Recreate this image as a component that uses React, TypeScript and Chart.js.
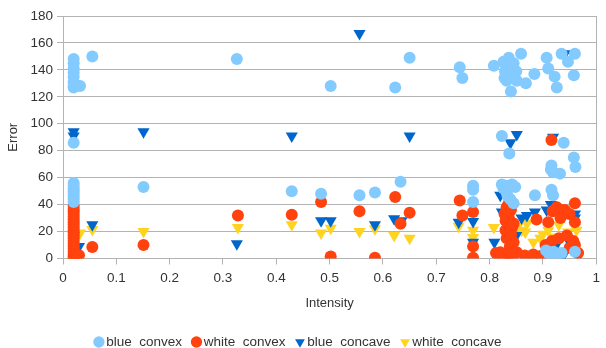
import { useEffect, useRef } from 'react';
import { Chart, registerables } from 'chart.js';

Chart.register(...registerables);

const seriesNames = ['blue  convex', 'white  convex', 'blue  concave', 'white  concave'];
const xTickLabels = ['0', '0.1', '0.2', '0.3', '0.4', '0.5', '0.6', '0.7', '0.8', '0.9', '1'];
const yTickLabels = ['0', '20', '40', '60', '80', '100', '120', '140', '160', '180'];

const blueConvexX = [
  0.02, 0.02, 0.02, 0.02, 0.02, 0.02, 0.02, 0.02, 0.032, 0.055, 0.02,
  0.02, 0.02, 0.02, 0.02, 0.02, 0.02, 0.02, 0.02, 0.151, 0.326, 0.429,
  0.484, 0.502, 0.556, 0.585, 0.623, 0.633, 0.65, 0.744, 0.749, 0.769,
  0.769, 0.769, 0.808, 0.826, 0.836, 0.829, 0.839, 0.842, 0.832, 0.851,
  0.84, 0.859, 0.868, 0.884, 0.907, 0.91, 0.922, 0.926, 0.935, 0.947,
  0.96, 0.958, 0.832, 0.845, 0.83, 0.836, 0.845, 0.823, 0.837, 0.939,
  0.958, 0.961, 0.916, 0.919, 0.932, 0.823, 0.842, 0.832, 0.848, 0.826,
  0.832, 0.839, 0.845, 0.885, 0.916, 0.919, 0.906, 0.912, 0.92, 0.928,
  0.935, 0.96, 0.828, 0.838, 0.85, 0.834, 0.915,
];
const blueConvexY = [
  148, 145, 141, 138, 135, 131, 128, 127, 128, 150, 86,
  56, 54, 52, 50, 48, 46, 44, 42, 53, 148, 50,
  48, 128, 47, 49, 127, 57, 149, 142, 134, 54,
  51, 42, 143, 146, 149, 139, 142, 135, 132, 132,
  124, 152, 130, 137, 149, 141, 135, 127, 152, 146,
  152, 136, 140, 137, 144, 137, 145, 91, 78, 86,
  75, 68, 69, 64, 63, 55, 55, 54, 53, 52,
  49, 44, 41, 47, 51, 47, 6, 3, 5, 2,
  4, 5, 134, 144, 139, 46, 66,
];

const whiteConvexX = [
  0.02, 0.02, 0.02, 0.02, 0.02, 0.02, 0.02, 0.02, 0.02, 0.02, 0.02,
  0.02, 0.02, 0.02, 0.02, 0.02, 0.02, 0.02, 0.02, 0.02, 0.02, 0.025,
  0.03, 0.055, 0.151, 0.328, 0.429, 0.484, 0.502, 0.556, 0.585, 0.623,
  0.633, 0.65, 0.744, 0.749, 0.769, 0.769, 0.769, 0.812, 0.916, 0.832,
  0.84, 0.828, 0.836, 0.845, 0.83, 0.84, 0.832, 0.845, 0.83, 0.842,
  0.838, 0.835, 0.82, 0.835, 0.851, 0.866, 0.882, 0.897, 0.826, 0.843,
  0.888, 0.91, 0.926, 0.941, 0.96, 0.96, 0.918, 0.933, 0.95, 0.905,
  0.917, 0.93, 0.945, 0.957, 0.96, 0.95, 0.966, 0.935,
];
const whiteConvexY = [
  0, 1.5, 3, 5, 7, 9, 11, 13, 15, 17, 19,
  21, 23, 25, 27, 29, 31, 33, 35, 37, 39, 1,
  2.5, 8.5, 10, 32, 32.5, 42, 1.5, 35, 0.5, 45.6,
  25.8, 34, 43, 32, 34.5, 9, 0.5, 4, 88, 38,
  36, 33, 30, 26, 21, 18, 15, 12, 28, 23,
  9, 40, 4.7, 2.2, 4.7, 2.2, 3, 2, 1.5, 1,
  29, 27, 38, 36, 41, 27, 35, 30, 33, 10,
  13, 15, 17, 13, 10, 8, 4, 36,
];

const blueConcaveX = [
  0.02, 0.02, 0.151, 0.429, 0.556, 0.65, 0.941, 0.851, 0.839, 0.919,
  0.02, 0.03, 0.055, 0.326, 0.484, 0.502, 0.585, 0.621, 0.635, 0.742,
  0.769, 0.769, 0.809, 0.82, 0.823, 0.87, 0.885, 0.907, 0.929, 0.96,
  0.938, 0.85, 0.86, 0.83, 0.915, 0.925, 0.95, 0.96,
];
const blueConcaveY = [
  94, 91, 94, 91, 167, 91, 152, 92, 86, 90,
  17, 9, 25, 11, 28, 28, 25, 29.5, 28, 27,
  27.5, 12, 12, 47, 34.5, 32, 34.5, 36, 37, 33,
  2, 17, 30, 20, 40, 10, 12, 30,
];

const whiteConcaveX = [
  0.032, 0.055, 0.151, 0.328, 0.429, 0.484, 0.502, 0.556, 0.585, 0.621,
  0.65, 0.742, 0.769, 0.769, 0.808, 0.854, 0.867, 0.882, 0.91, 0.947,
  0.963, 0.84, 0.87, 0.895, 0.93, 0.9, 0.92, 0.86,
];
const whiteConcaveY = [
  19, 21.5, 20, 23, 25, 19, 22.5, 20, 22, 17,
  15, 24, 21, 15.5, 23, 24.6, 19.6, 12, 21, 19.6,
  21, 22, 26, 15, 25, 18, 16, 21,
];

const colors = ['#83caff', '#ff420e', '#0066cc', '#ffd320'];
const GRID = '#b3b3b3';
const TEXT = '#333333';
const FONT = '"Liberation Sans", Arial, sans-serif';

function toPoints(xs: number[], ys: number[]) {
  return xs.map((x, i) => ({ x, y: ys[i] }));
}

export default function App() {
  const canvasRef = useRef<HTMLCanvasElement | null>(null);

  useEffect(() => {
    document.body.style.margin = '0';
    const canvas = canvasRef.current;
    if (!canvas) return;
    const series = [
      { xs: blueConvexX, ys: blueConvexY, style: 'circle', r: 6, rot: 0 },
      { xs: whiteConvexX, ys: whiteConvexY, style: 'circle', r: 6, rot: 0 },
      { xs: blueConcaveX, ys: blueConcaveY, style: 'triangle', r: 7, rot: 180 },
      { xs: whiteConcaveX, ys: whiteConcaveY, style: 'triangle', r: 7, rot: 180 },
    ];
    const chart = new Chart(canvas, {
      type: 'scatter',
      data: {
        datasets: series.map((s, i) => ({
          label: seriesNames[i],
          data: toPoints(s.xs, s.ys),
          backgroundColor: colors[i],
          borderColor: colors[i],
          borderWidth: 0,
          pointStyle: s.style as any,
          pointRadius: s.r,
          pointHoverRadius: s.r,
          rotation: s.rot,
        })),
      },
      options: {
        animation: false,
        responsive: false,
        devicePixelRatio: 1,
        layout: { padding: { top: 16, right: 6, left: 0, bottom: -10.75 } },
        plugins: {
          tooltip: { enabled: false },
          legend: {
            position: 'bottom',
            labels: {
              usePointStyle: true,
              boxWidth: 1,
              boxHeight: 8,
              padding: 14,
              color: TEXT,
              font: { family: FONT, size: 13.5 },
            },
          },
        },
        scales: {
          x: {
            type: 'linear',
            min: 0,
            max: 1,
            ticks: {
              stepSize: 0.1,
              padding: 6,
              color: TEXT,
              font: { family: FONT, size: 13.5 },
              callback: (_v: any, i: number) => xTickLabels[i],
            },
            grid: {
              color: (ctx: any) => (ctx.index === 10 ? GRID : 'rgba(0,0,0,0)'),
              tickColor: GRID,
              tickLength: 6,
            },
            border: { display: true, color: GRID },
            title: {
              display: true,
              text: 'Intensity',
              color: TEXT,
              font: { family: FONT, size: 13 },
              padding: { top: 4, bottom: 10 },
            },
            afterFit: (scale: any) => {
              scale.height = 62.75;
            },
          },
          y: {
            type: 'linear',
            min: 0,
            max: 180,
            ticks: {
              stepSize: 20,
              padding: 4,
              color: TEXT,
              font: { family: FONT, size: 13.5 },
              callback: (_v: any, i: number) => yTickLabels[i],
            },
            grid: { color: GRID, tickColor: GRID, tickLength: 6 },
            border: { display: true, color: GRID },
            title: {
              display: true,
              text: 'Error',
              color: TEXT,
              font: { family: FONT, size: 13 },
              padding: { top: 6, bottom: 4 },
            },
            afterFit: (scale: any) => {
              scale.width = 63;
            },
          },
        },
      },
    } as any);
    return () => chart.destroy();
  }, []);

  return (
    <div style={{ width: 606, height: 348, position: 'relative' }}>
      <canvas ref={canvasRef} width={606} height={348} style={{ display: 'block' }} />
    </div>
  );
}
